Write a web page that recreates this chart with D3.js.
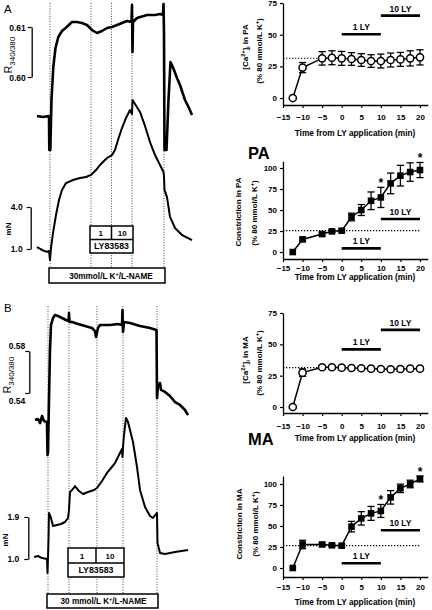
<!DOCTYPE html>
<html>
<head>
<meta charset="utf-8">
<script src="https://cdn.jsdelivr.net/npm/d3@7/dist/d3.min.js"></script>
<style>
html,body{margin:0;padding:0;background:#fff;}
svg{display:block;}
</style>
</head>
<body>
<svg id="chart" width="432" height="610"></svg>
<script>
// ================= DATA =================
const timeTicks = [-15, -10, -5, 0, 5, 10, 15, 20];
const caTicks = [0, 25, 50, 75];
const constrictionTicks = [0, 25, 50, 75, 100];
const sampleTimes = [-12.5, -10, -5, -2.5, 0, 2.5, 5, 7.5, 10, 12.5, 15, 17.5, 20];

const paCaMean = [0, 24, 31.3, 31.8, 31.3, 30.8, 30, 29.2, 29.2, 30, 30.5, 31.3, 32.1];
const paCaErr  = [0, 4, 5.3, 5.5, 5.5, 5, 5, 5, 5.5, 5.5, 5.5, 6, 6];
const paConMean = [0, 15, 21.4, 24.6, 25.4, 41.7, 50, 61, 65, 81.7, 90.9, 95.2, 97.6];
const paConErr  = [0, 2, 2, 1.5, 1.5, 4.6, 6.5, 10.5, 12, 12.3, 12.3, 11, 9];
const maCaMean = [0, 27.4, 31.7, 31.7, 31.4, 31.1, 30.9, 30.6, 30.3, 30.1, 30.3, 30.6, 30.6];
const maCaErr  = [0, 3, 1.5, 1.5, 1.5, 1.5, 1.5, 1.5, 1.5, 1.5, 1.5, 1.5, 1.5];
const maConMean = [0, 28, 28, 27, 26.6, 49.2, 59.1, 65, 67.9, 84.1, 94.8, 100, 106];
const maConErr  = [0, 5, 1.5, 1.5, 1.5, 6.3, 8, 8.3, 7.7, 8, 5, 4.5, 3.4];

const paCaBaseline = 31.4, paConBaseline = 25.4, maCaBaseline = 31.4, maConBaseline = 26.7;
const lyPeriods = [{label: "1 LY", start: 0, end: 10}, {label: "10 LY", start: 10, end: 20}];
const starTimes = [10, 20];

// Representative traces (time in min from LY, R340/380 ratio, tension mN)
const traceA_Rt = [-26.34,-23.41,-20.49,-20.34,-19.85,-19.27,-18.39,-17.32,-15.95,-14.15,-11.85,-9.27,-6.83,-4.39,-1.95,0.49,2.93,5.37,7.80,10.24,12.68,15.12,17.56,19.76,20.0,20.24,20.49,22.44,27.32,31.22,33.66,35.12,35.37,35.61,35.85,36.83,37.80,38.78,39.51,40.49,41.95,43.41,45.85,47.80,49.27];
const traceA_Rv = [0.5922,0.5920,0.5922,0.5854,0.5854,0.5954,0.6020,0.6058,0.6080,0.6092,0.6100,0.6110,0.6110,0.6108,0.6104,0.6094,0.6088,0.6092,0.6098,0.6100,0.6104,0.6108,0.6112,0.6110,0.6144,0.6050,0.6110,0.6118,0.6124,0.6124,0.6126,0.6124,0.6146,0.6088,0.5854,0.5854,0.5954,0.6030,0.6024,0.6014,0.5998,0.5984,0.5954,0.5938,0.5924];
const traceA_Nt = [-26.34,-23.90,-21.46,-20.49,-20.00,-19.51,-18.54,-17.07,-15.61,-14.15,-12.20,-8.78,-5.37,-2.44,0,2.44,4.39,7.80,10.24,11.71,13.17,15.12,17.07,19.02,20.0,20.24,21.46,23.90,26.34,28.78,31.22,33.66,35.37,35.61,35.85,37.07,38.54,40.98,44.39,49.27];
const traceA_Nv = [1.14,0.93,0.79,0.86,0.21,1.07,2.14,3.43,4.50,5.21,5.71,5.93,6.07,6.14,6.29,6.64,7.00,7.50,7.71,8.07,8.79,9.64,10.36,10.93,10.64,11.64,11.36,10.79,9.79,8.64,7.71,7.00,6.50,6.21,5.21,4.71,3.29,2.50,2.00,1.64];
const traceB_Rt = [-12.59,-11.48,-10.74,-10.0,-9.26,-8.15,-7.96,-7.78,-7.41,-7.04,-6.67,-5.93,-5.19,-4.07,-2.59,-1.11,-0.19,0,0.19,1.11,3.33,5.93,8.52,9.63,10.0,10.74,11.48,15.19,18.15,19.63,19.81,20.0,20.37,22.59,26.30,30.0,32.41,32.59,32.96,33.70,34.07,35.56,37.41,39.26,41.11,42.96,44.07];
const traceB_Rv = [0.5143,0.5152,0.5114,0.5181,0.5133,0.5124,0.4810,0.4829,0.5333,0.5810,0.6048,0.6114,0.6143,0.6133,0.6114,0.6095,0.6086,0.6162,0.6076,0.6076,0.6057,0.6038,0.6019,0.5990,0.5933,0.6019,0.6048,0.6048,0.6057,0.6048,0.6190,0.5981,0.6076,0.6067,0.6038,0.6019,0.6000,0.5352,0.5476,0.5495,0.5429,0.5410,0.5371,0.5314,0.5286,0.5238,0.5190];
const traceB_Nt = [-12.96,-11.48,-10.0,-8.15,-7.96,-7.59,-7.41,-6.67,-5.93,-4.44,-2.96,-1.48,-0.37,0,0.37,1.48,2.22,3.70,5.19,7.04,9.26,10.37,12.22,14.07,15.56,17.04,18.52,19.63,19.81,20.0,20.37,21.11,21.85,22.59,23.70,25.19,26.30,28.15,30.0,31.11,32.59,32.78,33.70,35.56,39.26,44.07];
const traceB_Nv = [1.043,1.064,1.021,1.0,0.70,1.407,1.986,1.879,1.707,1.729,1.750,1.793,1.879,2.050,2.436,2.500,2.564,2.457,2.393,2.436,2.479,2.521,2.671,2.843,2.950,3.057,3.228,3.357,3.186,3.400,3.657,4.021,3.936,3.764,3.507,2.971,2.479,2.114,1.921,1.879,1.986,1.343,1.129,1.107,1.150,1.193];
const traceA_events = [-20, 0, 10, 20, 35.6];
const traceB_events = [-7.78, 0, 10.37, 20, 32.59];
const scaleBarA_R = [0.60, 0.61], scaleBarA_N = [1.0, 4.0];
const scaleBarB_R = [0.54, 0.58], scaleBarB_N = [1.0, 1.9];

// ================= DRAWING =================
const FONT = "'Liberation Sans', Arial, Helvetica, sans-serif";
const ink = "#000";
const svg = d3.select("#chart").attr("font-family", FONT);

function styleAxis(a, size, bold) {
  a.attr("font-family", FONT);
  a.select(".domain").attr("stroke", ink).attr("stroke-width", 1.3);
  a.selectAll(".tick line").attr("stroke", ink).attr("stroke-width", 1.2);
  a.selectAll(".tick text").attr("font-size", size).attr("font-weight", bold ? "bold" : "normal").attr("fill", ink);
}

function addText(g, x, y, str, size, opts = {}) {
  return g.append("text").attr("x", x).attr("y", y).attr("font-size", size)
    .attr("font-weight", opts.weight || "bold").attr("text-anchor", opts.anchor || "middle")
    .attr("fill", ink).text(str);
}

function rotLabel(g, x, y, parts, size) {
  const t = g.append("text").attr("transform", `translate(${x},${y}) rotate(-90)`)
    .attr("text-anchor", "middle").attr("font-size", size).attr("font-weight", "bold").attr("fill", ink);
  parts.forEach(p => {
    const s = t.append("tspan").attr("dy", p.dy || 0).text(p.t);
    if (p.size) s.attr("font-size", p.size);
  });
}

// ---------- right panels ----------
const xR = d3.scaleLinear().domain([-15, 22]).range([283, 427.8]);

const caLabel = r => [{t: "[Ca"}, {t: "2+", dy: -3, size: 5.5}, {t: "]", dy: 3}, {t: "i", dy: 2, size: 5.5}, {t: " in " + r, dy: -2}];
const conLabel = r => [{t: "Constriction in " + r}];
const unitLabel = [{t: "(% 80 mmol/L K"}, {t: "+", dy: -3, size: 5.5}, {t: ")", dy: 3}];

const rightPanels = [
  {mean: paCaMean, err: paCaErr, marker: "circle", ticks: caTicks, yDomain: [-5.5, 75], yRange: [105, 3],
   base: paCaBaseline, baseEnd: -5, barLevels: [50.3, 65], stars: false, lab1: caLabel("PA"),
   labX: [248, 262], labY: [47, 51], tickPad: 6, titleOff: 31},
  {mean: paConMean, err: paConErr, marker: "square", ticks: constrictionTicks, yDomain: [-8.3, 108], yRange: [259, 161.3],
   base: paConBaseline, baseEnd: 20, barLevels: [4.4, 39.3], stars: true, lab1: conLabel("PA"),
   labX: [241, 257], labY: [212, 213], tickPad: 3, titleOff: 21},
  {mean: maCaMean, err: maCaErr, marker: "circle", ticks: caTicks, yDomain: [-4.8, 75], yRange: [413, 313],
   base: maCaBaseline, baseEnd: -5, barLevels: [46, 61.5], stars: false, lab1: caLabel("MA"),
   labX: [248, 262], labY: [360, 363], tickPad: 7, titleOff: 28},
  {mean: maConMean, err: maConErr, marker: "square", ticks: constrictionTicks, yDomain: [-10.7, 109.5], yRange: [577, 476],
   base: maConBaseline, baseEnd: 20, barLevels: [5.6, 45], stars: true, lab1: conLabel("MA"),
   labX: [242, 258], labY: [524, 524], tickPad: 4, titleOff: 28}
];

rightPanels.forEach(c => {
  const y = d3.scaleLinear().domain(c.yDomain).range(c.yRange);
  const g = svg.append("g");
  const yAx = g.append("g").attr("transform", `translate(${xR(-15)},0)`)
    .call(d3.axisLeft(y).tickValues(c.ticks).tickSizeInner(3).tickSizeOuter(0).tickPadding(3));
  styleAxis(yAx, 8, true);
  const xAx = g.append("g").attr("transform", `translate(0,${c.yRange[0]})`)
    .call(d3.axisBottom(xR).tickValues(timeTicks).tickSizeInner(3).tickSizeOuter(0).tickPadding(c.tickPad));
  styleAxis(xAx, 8, true);

  // baseline
  g.append("line").attr("x1", xR(-15)).attr("x2", xR(c.baseEnd)).attr("y1", y(c.base)).attr("y2", y(c.base))
    .attr("stroke", ink).attr("stroke-width", 1.2).attr("stroke-dasharray", "1.3,1.7");

  // LY bars
  lyPeriods.forEach((p, i) => {
    const lv = y(c.barLevels[i]);
    g.append("line").attr("x1", xR(p.start)).attr("x2", xR(p.end)).attr("y1", lv).attr("y2", lv)
      .attr("stroke", ink).attr("stroke-width", 2.6);
    addText(g, xR((p.start + p.end) / 2), lv - 4, p.label, 8.5);
  });

  // connecting line
  const ln = d3.line().x((d, i) => xR(sampleTimes[i])).y(d => y(d));
  g.append("path").datum(c.mean).attr("d", ln).attr("fill", "none").attr("stroke", ink).attr("stroke-width", 1.5);

  // error bars
  c.mean.forEach((m, i) => {
    const e = c.err[i]; if (!e) return;
    const cx = xR(sampleTimes[i]);
    g.append("line").attr("x1", cx).attr("x2", cx).attr("y1", y(m - e)).attr("y2", y(m + e)).attr("stroke", ink).attr("stroke-width", 1.3);
    [m - e, m + e].forEach(v => g.append("line").attr("x1", cx - 3.6).attr("x2", cx + 3.6).attr("y1", y(v)).attr("y2", y(v)).attr("stroke", ink).attr("stroke-width", 1.3));
  });

  // markers
  c.mean.forEach((m, i) => {
    const cx = xR(sampleTimes[i]), cy = y(m);
    if (c.marker === "circle") {
      g.append("circle").attr("cx", cx).attr("cy", cy).attr("r", 3.6).attr("fill", "#fff").attr("stroke", ink).attr("stroke-width", 1.5);
    } else {
      g.append("rect").attr("x", cx - 3.3).attr("y", cy - 3.3).attr("width", 6.6).attr("height", 6.6).attr("fill", ink);
    }
  });

  // stars
  if (c.stars) starTimes.forEach(t => {
    const i = sampleTimes.indexOf(t);
    addText(g, xR(t), y(c.mean[i] + c.err[i]) - 0.5, "*", 12);
  });

  // labels
  rotLabel(g, c.labX[0], c.labY[0], c.lab1, 8);
  rotLabel(g, c.labX[1], c.labY[1], unitLabel, 8);
  addText(g, 355, c.yRange[0] + c.titleOff, "Time from LY application (min)", 8.3);
});

addText(svg, 248, 159, "PA", 16.5, {anchor: "start"});
addText(svg, 248, 445, "MA", 16.5, {anchor: "start"});

// ---------- left trace panels ----------
const tracePanels = [
  {letter: "A", letterY: 13, Rt: traceA_Rt, Rv: traceA_Rv, Nt: traceA_Nt, Nv: traceA_Nv, events: traceA_events,
   tDomain: [-26.34, 49.27], xRange: [37, 192], rBar: scaleBarA_R, rRange: [77, 27], nBar: scaleBarA_N, nRange: [249, 207],
   dotTop: 3, dotBottom: 268, rBarX: 31.7, nBarX: 30.7, rPad: 2, nPad: 4, rLab: [12, 55], nLab: [11, 229],
   ly: [226, 239.5, 253], k: [268, 283], kText: "30mmol/L K", kShift: 4, rLabShift: [0, 0]},
  {letter: "B", letterY: 312, Rt: traceB_Rt, Rv: traceB_Rv, Nt: traceB_Nt, Nv: traceB_Nv, events: traceB_events,
   tDomain: [-12.96, 44.07], xRange: [34, 188], rBar: scaleBarB_R, rRange: [393, 351], nBar: scaleBarB_N, nRange: [559, 517],
   dotTop: 306, dotBottom: 594, rBarX: 29.3, nBarX: 28.3, rPad: 0, nPad: 5, rLab: [11, 375], nLab: [8, 540],
   ly: [548, 563, 577], k: [594, 608], kText: "30 mmol/L K", kShift: 1, rLabShift: [7, -6]}
];

tracePanels.forEach(c => {
  const x = d3.scaleLinear().domain(c.tDomain).range(c.xRange);
  const yR = d3.scaleLinear().domain(c.rBar).range(c.rRange);
  const yN = d3.scaleLinear().domain(c.nBar).range(c.nRange);
  const g = svg.append("g");

  addText(g, 4, c.letterY, c.letter, 11.5, {weight: "normal", anchor: "start"});

  c.events.forEach(t => g.append("line").attr("x1", x(t)).attr("x2", x(t)).attr("y1", c.dotTop).attr("y2", c.dotBottom)
    .attr("stroke", "#333").attr("stroke-width", 0.9).attr("stroke-dasharray", "1,1.6"));

  const lr = d3.line().x((d, i) => x(c.Rt[i])).y(d => yR(d));
  g.append("path").datum(c.Rv).attr("d", lr).attr("fill", "none").attr("stroke", ink)
    .attr("stroke-width", 2.6).attr("stroke-linejoin", "round");
  const lnn = d3.line().x((d, i) => x(c.Nt[i])).y(d => yN(d));
  g.append("path").datum(c.Nv).attr("d", lnn).attr("fill", "none").attr("stroke", ink)
    .attr("stroke-width", 2).attr("stroke-linejoin", "round");

  // scale bars
  const ra = g.append("g").attr("transform", `translate(${c.rBarX},0)`)
    .call(d3.axisLeft(yR).tickValues(c.rBar).tickFormat(d3.format(".2f")).tickSizeInner(4).tickSizeOuter(0).tickPadding(c.rPad));
  styleAxis(ra, 8.5, true);
  ra.selectAll(".tick text").attr("dy", (d, i) => (i === 0 ? c.rLabShift[0] : c.rLabShift[1]) + 3);
  const na = g.append("g").attr("transform", `translate(${c.nBarX},0)`)
    .call(d3.axisLeft(yN).tickValues(c.nBar).tickFormat(d3.format(".1f")).tickSizeInner(4).tickSizeOuter(0).tickPadding(c.nPad));
  styleAxis(na, 8.5, true);

  // axis titles
  const rt = g.append("text").attr("transform", `translate(${c.rLab[0]},${c.rLab[1]}) rotate(-90)`)
    .attr("text-anchor", "middle").attr("font-size", 10.5).attr("fill", ink);
  rt.append("tspan").text("R");
  rt.append("tspan").attr("dy", 2.5).attr("font-size", 8).text("340/380");
  rotLabel(g, c.nLab[0], c.nLab[1], [{t: "mN"}], 8);

  // LY box
  const [bt, bm, bb] = c.ly;
  const bl = x(0) - 1, br = x(20) + 1;
  g.append("rect").attr("x", bl).attr("y", bt).attr("width", br - bl).attr("height", bb - bt)
    .attr("fill", "#fff").attr("stroke", ink).attr("stroke-width", 1.5);
  g.append("line").attr("x1", bl).attr("x2", br).attr("y1", bm).attr("y2", bm).attr("stroke", ink).attr("stroke-width", 1.5);
  g.append("line").attr("x1", x(lyPeriods[1].start)).attr("x2", x(lyPeriods[1].start)).attr("y1", bt).attr("y2", bm).attr("stroke", ink).attr("stroke-width", 1.5);
  addText(g, (bl + x(10)) / 2, (bt + bm) / 2 + 3, "1", 8);
  addText(g, (x(10) + br) / 2, (bt + bm) / 2 + 3, "10", 8);
  addText(g, (bl + br) / 2, (bm + bb) / 2 + 3.2, "LY83583", 8.8);

  // K+ / L-NAME box
  const kl = x(c.events[0]) - 1, kr = x(c.events[4]) + 1;
  g.append("rect").attr("x", kl).attr("y", c.k[0]).attr("width", kr - kl).attr("height", c.k[1] - c.k[0])
    .attr("fill", "#fff").attr("stroke", ink).attr("stroke-width", 1.5);
  const kt = addText(g, (kl + kr) / 2 + c.kShift, (c.k[0] + c.k[1]) / 2 + 3, "", 8.2);
  kt.append("tspan").text(c.kText);
  kt.append("tspan").attr("dy", -3).attr("font-size", 5.5).text("+");
  kt.append("tspan").attr("dy", 3).text("/L-NAME");
});
</script>
</body>
</html>
